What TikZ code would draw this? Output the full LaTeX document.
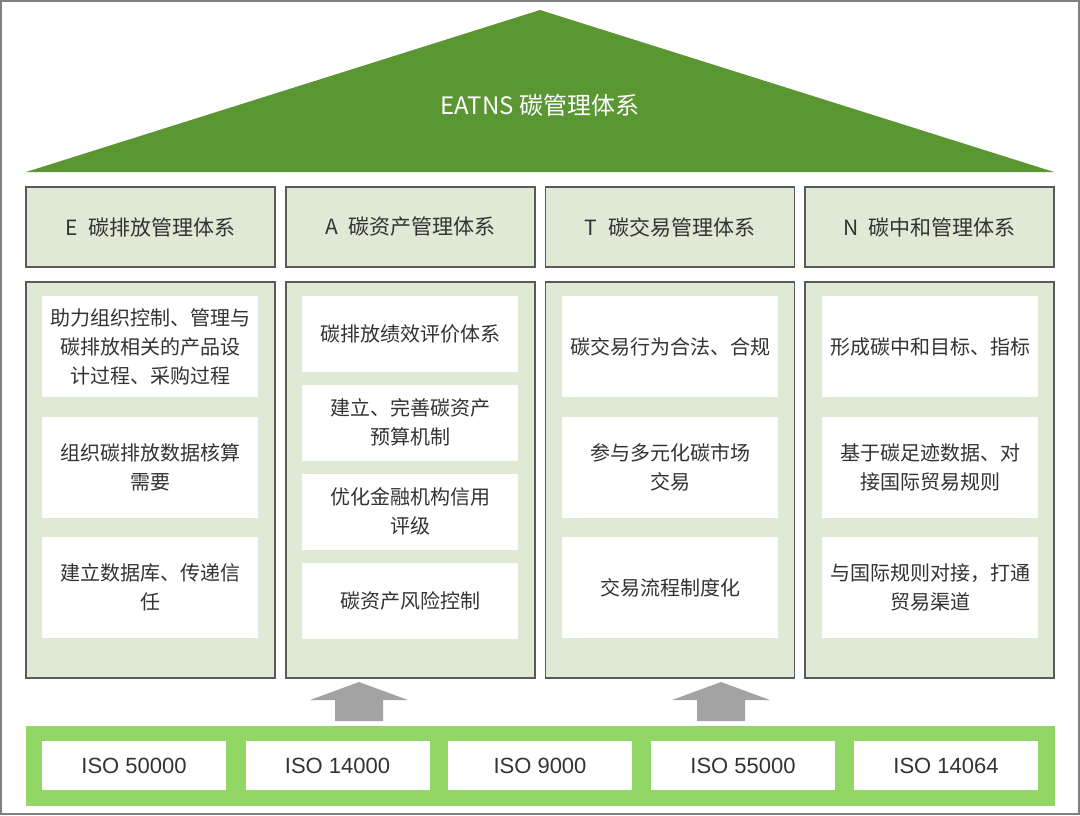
\documentclass[tikz,border=0pt]{standalone}
\usepackage{fontspec}
\setmainfont{Liberation Sans}
\newfontfamily\cjk{Noto Sans CJK SC}
\definecolor{roofgreen}{HTML}{5A9733}
\definecolor{palegreen}{HTML}{DFE9D6}
\definecolor{bandgreen}{HTML}{92D766}
\definecolor{edgegray}{HTML}{5A5A5A}
\definecolor{arrowgray}{HTML}{A3A3A3}
\definecolor{txt}{HTML}{333333}
\tikzset{
  colhead/.style={draw=edgegray, fill=palegreen, line width=0.6pt, minimum width=124.5pt, minimum height=40pt, inner sep=0pt, font=\cjk\fontsize{10.5}{12}\selectfont},
  colbody/.style={draw=edgegray, fill=palegreen, line width=0.6pt, minimum width=124.5pt, minimum height=198pt, inner sep=0pt},
  itembox/.style={fill=white, minimum width=108pt, inner sep=0pt, align=center},
  isobox/.style={fill=white, minimum width=92pt, minimum height=24.5pt, inner sep=0pt, font=\fontsize{11}{12}\selectfont}
}
\begin{document}
\begin{tikzpicture}[x=0.5pt, y=-0.5pt, every node/.style={font=\cjk\fontsize{10}{14.5}\selectfont, text=txt}]
  \useasboundingbox (0,0) rectangle (1080,815);
  \draw[gray, line width=0.8pt] (1,1) rectangle (1079,814);
  % roof
  \fill[roofgreen] (26,172) -- (540,10) -- (1054,172) -- cycle;
  \node[text=white, font=\cjk\fontsize{12}{14}\selectfont] (roof) at (540,105) {EATNS 碳管理体系};
  % four pillars
  \foreach \x/\n in {150.5/e, 410.5/a, 670/t, 929.5/n} {
    \node[colbody] (\n body) at (\x,480) {};
  }
  \node[colhead] (ehead) at (150.5,227) {E\enspace 碳排放管理体系};
  \node[colhead] (ahead) at (410.5,227) {A\enspace 碳资产管理体系};
  \node[colhead] (thead) at (670,227) {T\enspace 碳交易管理体系};
  \node[colhead] (nhead) at (929.5,227) {N\enspace 碳中和管理体系};
  % E column
  \node[itembox, minimum height=50.5pt] (e1) at (150,346.5) {助力组织控制、管理与\\碳排放相关的产品设\\计过程、采购过程};
  \node[itembox, minimum height=50.5pt] (e2) at (150,467) {组织碳排放数据核算\\需要};
  \node[itembox, minimum height=50.5pt] (e3) at (150,587.5) {建立数据库、传递信\\任};
  % A column
  \node[itembox, minimum height=38pt] (a1) at (410,334) {碳排放绩效评价体系};
  \node[itembox, minimum height=38pt] (a2) at (410,422.5) {建立、完善碳资产\\预算机制};
  \node[itembox, minimum height=38pt] (a3) at (410,511.5) {优化金融机构信用\\评级};
  \node[itembox, minimum height=38pt] (a4) at (410,600.5) {碳资产风险控制};
  % T column
  \node[itembox, minimum height=50.5pt] (t1) at (670,346.5) {碳交易行为合法、合规};
  \node[itembox, minimum height=50.5pt] (t2) at (670,467) {参与多元化碳市场\\交易};
  \node[itembox, minimum height=50.5pt] (t3) at (670,587.5) {交易流程制度化};
  % N column
  \node[itembox, minimum height=50.5pt] (n1) at (930,346.5) {形成碳中和目标、指标};
  \node[itembox, minimum height=50.5pt] (n2) at (930,467) {基于碳足迹数据、对\\接国际贸易规则};
  \node[itembox, minimum height=50.5pt] (n3) at (930,587.5) {与国际规则对接，打通\\贸易渠道};
  % block arrows
  \foreach \c in {359,721} {
    \fill[arrowgray] (\c-24,721) -- (\c-24,700) -- (\c-49,700) -- (\c,682) -- (\c+49,700) -- (\c+24,700) -- (\c+24,721) -- cycle;
  }
  % standards band
  \node[fill=bandgreen, minimum width=514.5pt, minimum height=40pt, inner sep=0pt] (band) at (540,765.5) {};
  \foreach \x/\s [count=\i] in {134/50000, 337.5/14000, 540/9000, 743/55000, 946/14064} {
    \node[isobox] (iso\i) at (\x,765.5) {ISO \s};
  }
\end{tikzpicture}
\end{document}
